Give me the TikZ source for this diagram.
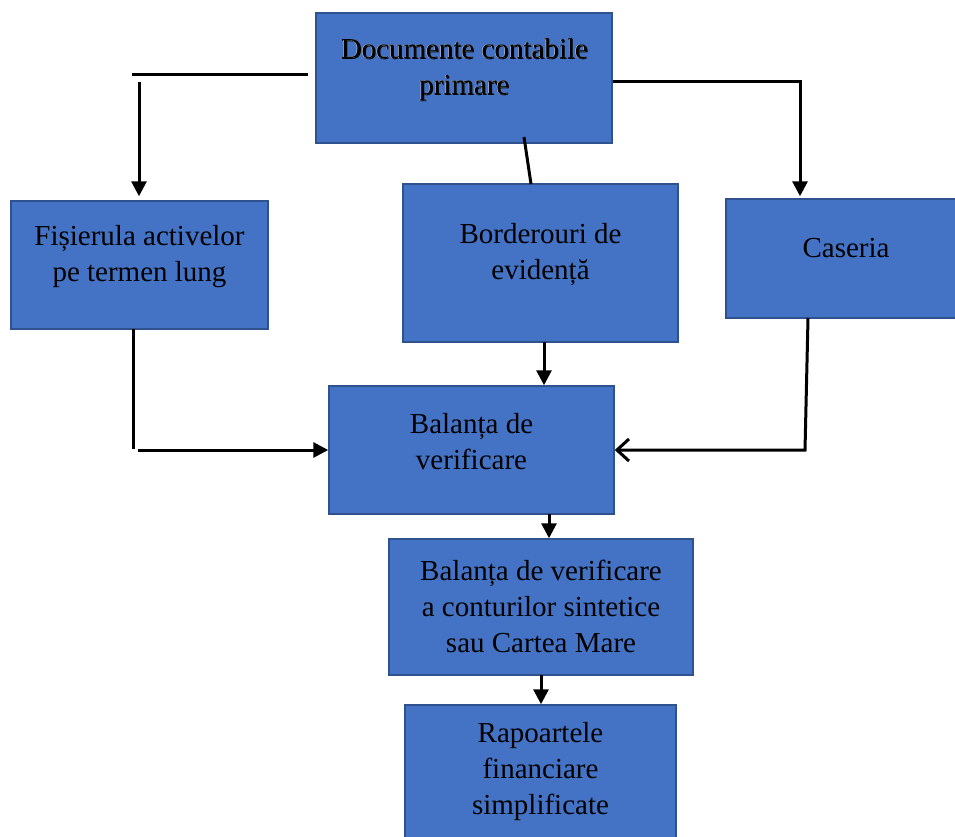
\documentclass[tikz,border=0pt]{standalone}
\usepackage{fontspec}
\setmainfont{Liberation Serif}
\usetikzlibrary{arrows.meta,calc}
\definecolor{boxfill}{HTML}{4472C4}
\definecolor{boxline}{HTML}{2F528F}
\begin{document}
\begin{tikzpicture}[x=1pt,y=-1pt,
  box/.style={draw=boxline, line width=1.5pt, fill=boxfill, rectangle, inner sep=0pt},
  txt/.style={align=center, font=\fontsize{29}{36}\selectfont, inner sep=0pt},
  conn/.style={line width=3pt, black},
  tip/.style={-{Triangle[length=15pt,width=15pt]}},
  opentip/.style={-{Straight Barb[length=12pt,width=22pt,line width=3pt]}}]
\useasboundingbox (0,0) rectangle (955,836);
% boxes
\node[box, minimum width=296pt, minimum height=130pt] (top) at (464,78) {};
\node[box, minimum width=257pt, minimum height=128pt] (fis) at (139.5,265) {};
\node[box, minimum width=275pt, minimum height=158pt] (bord) at (540.5,263) {};
\node[box, minimum width=240pt, minimum height=119pt] (cas) at (846,258.5) {};
\node[box, minimum width=285pt, minimum height=128pt] (bal) at (471.5,450) {};
\node[box, minimum width=304pt, minimum height=136pt] (bal2) at (541,607) {};
\node[box, minimum width=271pt, minimum height=155pt] (rap) at (540.5,782.5) {};
% texts
\node[txt, text=black] (topts) at (465,70.5) {Documente contabile\\primare};
\node[txt, text=white!85!black] (topth) at (463.7,69.2) {Documente contabile\\primare};
\node[txt] (topt) at (464.2,69.6) {Documente contabile\\primare};
\node[txt] (fist) at (139.5,257) {Fișierula activelor\\pe termen lung};
\node[txt] (bordt) at (540.5,255) {Borderouri de\\evidență};
\node[txt] (cast) at (846,248) {Caseria};
\node[txt] (balt) at (471.5,442) {Balanța de\\verificare};
\node[txt] (bal2t) at (541,606) {Balanța de verificare\\a conturilor sintetice\\sau Cartea Mare};
\node[txt] (rapt) at (540.5,772) {Rapoartele\\financiare\\simplificate};
% connectors
\coordinate (l1) at (132,74);
\coordinate (l2) at (308,74);
\coordinate (l3) at (139,82);
\draw[conn] (l2) -- (l1);
\draw[conn,tip,shorten >=4pt] (l3) -- (l3 |- fis.north);
\coordinate (r1) at ($(top.east)+(0,3)$);
\coordinate (r2) at (800,81);
\draw[conn,tip,shorten >=2pt] (r1) -- (r2) -- (r2 |- cas.north);
\coordinate (m1) at (524,137);
\coordinate (m2) at (531,184);
\draw[conn] (m1) -- (m2);
\coordinate (b1) at (544,342);
\draw[conn,tip] (b1) -- (b1 |- bal.north);
\coordinate (lb1) at (133,329);
\coordinate (lb2) at (133,449);
\coordinate (lb3) at (138,450);
\draw[conn] (lb1) -- (lb2);
\draw[conn,tip] (lb3) -- (lb3 -| bal.west);
\coordinate (rb1) at (808,318);
\coordinate (rb2) at (805,450);
\draw[conn,opentip] (rb1) -- (rb2) -- (rb2 -| bal.east);
\coordinate (c1) at (549,514);
\draw[conn,tip] (c1) -- (c1 |- bal2.north);
\coordinate (d1) at (541,675);
\draw[conn,tip] (d1) -- (d1 |- rap.north);
\end{tikzpicture}
\end{document}
